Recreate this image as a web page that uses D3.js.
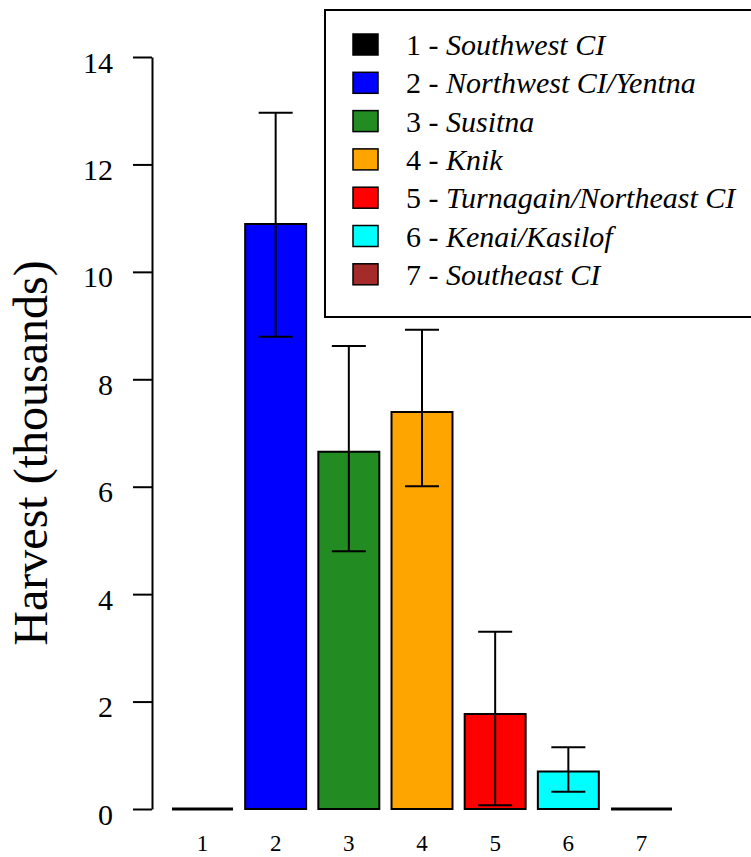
<!DOCTYPE html>
<html>
<head>
<meta charset="utf-8">
<script src="https://cdn.jsdelivr.net/npm/d3@7"></script>
<style>
  body { margin: 0; background: #fff; }
  text { font-family: "Liberation Serif", "Times New Roman", Times, serif; }
</style>
</head>
<body>
<svg id="chart"></svg>
<script>
// Data
const codes = ["1", "2", "3", "4", "5", "6", "7"];
const regions = ["Southwest CI", "Northwest CI/Yentna", "Susitna", "Knik", "Turnagain/Northeast CI", "Kenai/Kasilof", "Southeast CI"];
const harvest = [0, 10.89, 6.65, 7.39, 1.77, 0.70, 0];
const lower = [null, 8.79, 4.80, 6.01, 0.07, 0.32, null];
const upper = [null, 12.96, 8.62, 8.92, 3.30, 1.15, null];
const colors = ["#000000", "#0000ff", "#228b22", "#ffa500", "#ff0000", "#00ffff", "#a52a2a"];
const yTicks = [0, 2, 4, 6, 8, 10, 12, 14];

const width = 751, height = 857;
const serif = "Liberation Serif, Times New Roman, serif";

const svg = d3.select("#chart")
    .attr("width", width)
    .attr("height", height)
    .style("display", "block");

// Scales
const x = d3.scaleBand()
    .domain(codes)
    .range([172, 672])
    .paddingInner(0.2 / 1.2)
    .paddingOuter(0);

const y = d3.scaleLinear()
    .domain([0, 14])
    .range([809, 57]);

// Y axis
const yAxis = svg.append("g")
    .attr("transform", "translate(152,0)")
    .call(d3.axisLeft(y).tickValues(yTicks).tickSize(19).tickSizeOuter(0).tickPadding(20));

yAxis.attr("font-family", serif).attr("font-size", 30);
yAxis.select(".domain").attr("stroke-width", 2);
yAxis.selectAll(".tick line").attr("stroke-width", 2);
yAxis.selectAll(".tick text")
    .attr("font-family", serif)
    .attr("font-size", 30)
    .attr("dy", "0.5em")
    .attr("fill", "#000");

// X labels
const xAxis = svg.append("g")
    .attr("transform", "translate(0,809)")
    .call(d3.axisBottom(x).tickSize(0).tickPadding(26));

xAxis.attr("font-family", serif).attr("font-size", 23);
xAxis.select(".domain").remove();
xAxis.selectAll(".tick text")
    .attr("font-family", serif)
    .attr("font-size", 23)
    .attr("fill", "#000");

// Y label
svg.append("text")
    .attr("transform", "translate(47,453) rotate(-90)")
    .attr("text-anchor", "middle")
    .attr("font-family", serif)
    .attr("font-size", 48)
    .text("Harvest (thousands)");

// Bars (paths so that zero bars still show as a line)
const rows = codes.map((c, i) => ({ code: c, value: harvest[i], lo: lower[i], hi: upper[i], color: colors[i] }));

svg.append("g")
    .selectAll("path")
    .data(rows)
    .enter().append("path")
    .attr("d", d => {
        const x0 = x(d.code), w = x.bandwidth();
        return `M${x0},${y(0)}H${x0 + w}V${y(d.value)}H${x0}Z`;
    })
    .attr("fill", d => d.color)
    .attr("stroke", "#000")
    .attr("stroke-width", d => d.value === 0 ? 3 : 2);

// Error bars
const err = svg.append("g")
    .selectAll("g")
    .data(rows.filter(d => d.lo !== null))
    .enter().append("g")
    .attr("stroke", "#000")
    .attr("stroke-width", 2);

const cx = d => x(d.code) + x.bandwidth() / 2;

err.append("line")
    .attr("x1", cx).attr("x2", cx)
    .attr("y1", d => y(d.lo)).attr("y2", d => y(d.hi));

err.append("line")
    .attr("x1", d => cx(d) - 17).attr("x2", d => cx(d) + 17)
    .attr("y1", d => y(d.hi)).attr("y2", d => y(d.hi));

err.append("line")
    .attr("x1", d => cx(d) - 17).attr("x2", d => cx(d) + 17)
    .attr("y1", d => y(d.lo)).attr("y2", d => y(d.lo));

// Legend
const legend = svg.append("g");

legend.append("rect")
    .attr("x", 325)
    .attr("y", 10)
    .attr("width", 460)
    .attr("height", 307)
    .attr("fill", "#fff")
    .attr("stroke", "#000")
    .attr("stroke-width", 2);

const item = legend.selectAll(".item")
    .data(rows)
    .enter().append("g")
    .attr("class", "item")
    .attr("transform", (d, i) => `translate(0,${i * 38.3})`);

item.append("rect")
    .attr("x", 353)
    .attr("y", 34)
    .attr("width", 25)
    .attr("height", 21)
    .attr("fill", d => d.color)
    .attr("stroke", "#000")
    .attr("stroke-width", 1.5);

const label = item.append("text")
    .attr("x", 406)
    .attr("y", 55)
    .attr("font-family", serif)
    .attr("font-size", 30);

label.append("tspan").text(d => d.code + " - ");
label.append("tspan")
    .attr("font-style", "italic")
    .text((d, i) => regions[i]);
</script>
</body>
</html>
